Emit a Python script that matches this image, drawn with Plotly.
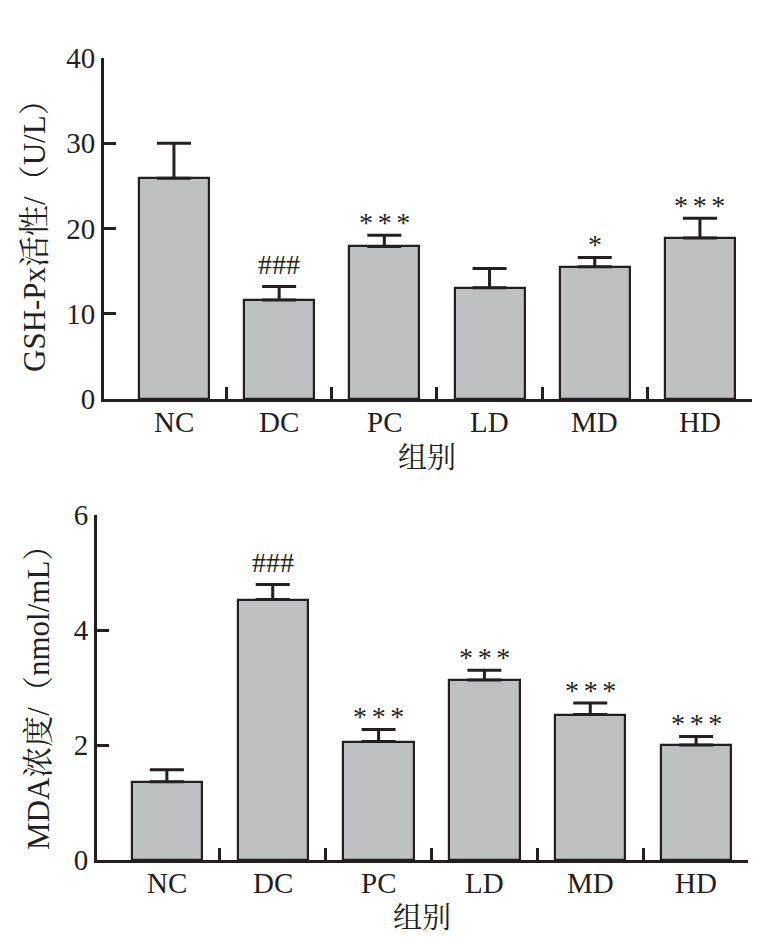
import plotly.graph_objects as go

W, H = 769, 948

groups = ["NC", "DC", "PC", "LD", "MD", "HD"]
gsh_mean = [25.9, 11.6, 17.9, 13.05, 15.5, 18.9]
gsh_err = [4.1, 1.6, 1.3, 2.25, 1.1, 2.3]
gsh_sig = ["", "###", "***", "", "*", "***"]
mda_mean = [1.36, 4.53, 2.06, 3.13, 2.53, 2.0]
mda_err = [0.21, 0.26, 0.21, 0.17, 0.20, 0.15]
mda_sig = ["", "###", "***", "***", "***", "***"]
gsh_ticks = [0, 10, 20, 30, 40]
mda_ticks = [0, 2, 4, 6]

INK = "#231f20"
FILL = "#bebfc1"
FONT = "Liberation Serif, Noto Serif CJK SC, Noto Sans CJK SC, serif"
FS = 29

xs = list(range(len(groups)))
fig = go.Figure()

for mean, err, xa, ya in [(gsh_mean, gsh_err, "x", "y"), (mda_mean, mda_err, "x2", "y2")]:
    fig.add_trace(go.Bar(
        x=xs, y=mean, width=0.665,
        marker=dict(color=FILL, line=dict(color=INK, width=2.2)),
        error_y=dict(type="data", array=err, arrayminus=[0]*len(err), symmetric=False,
                     color=INK, thickness=3, width=17),
        xaxis=xa, yaxis=ya, showlegend=False,
    ))

def px2x(p):
    return p / W

def px2y(p):
    return 1 - p / H

common_x = dict(
    tickmode="array", tickvals=xs, ticktext=groups, ticks="", showticklabels=False,
    showline=True, linewidth=3, linecolor=INK, showgrid=False, zeroline=False,
    tickfont=dict(family=FONT, size=FS, color=INK), automargin=False,
    minor=dict(tickmode="array", tickvals=[i + 0.5 for i in xs], ticks="inside",
               ticklen=12, tickwidth=3, tickcolor=INK, showgrid=False),
    fixedrange=True,
)
common_y = dict(
    tickmode="array", ticks="inside", ticklen=12, tickwidth=3, tickcolor=INK,
    showline=True, linewidth=3, linecolor=INK, showgrid=False, zeroline=False,
    tickfont=dict(family=FONT, size=FS, color=INK), fixedrange=True, automargin=False,
)

fig.update_layout(
    width=W, height=H, margin=dict(l=0, r=0, t=0, b=0),
    paper_bgcolor="white", plot_bgcolor="white",
    bargap=0,
    xaxis=dict(common_x, domain=[px2x(104), px2x(752)], range=[-0.665, 5.495], anchor="y"),
    yaxis=dict(common_y, domain=[px2y(399), px2y(58)], range=[0, 40], tickvals=gsh_ticks, anchor="x"),
    xaxis2=dict(common_x, domain=[px2x(97), px2x(748)], range=[-0.66, 5.49], anchor="y2"),
    yaxis2=dict(common_y, domain=[px2y(860), px2y(515)], range=[0, 6], tickvals=mda_ticks, anchor="x2"),
)

SP = "\u2006"
anns = []
for mean, err, sig, xr, yr in [(gsh_mean, gsh_err, gsh_sig, "x", "y"), (mda_mean, mda_err, mda_sig, "x2", "y2")]:
    for i, s in enumerate(sig):
        if not s:
            continue
        if s.startswith("#"):
            anns.append(dict(x=i, y=mean[i] + err[i], xref=xr, yref=yr, text=s, showarrow=False,
                             yanchor="middle", yshift=22, font=dict(family=FONT, size=28, color=INK)))
        else:
            anns.append(dict(x=i, y=mean[i] + err[i], xref=xr, yref=yr, text=SP.join(s), showarrow=False,
                             yanchor="middle", yshift=13, font=dict(family=FONT, size=28, color=INK)))

# category labels
for xr, ypix in [("x", 422), ("x2", 883)]:
    for i, g in enumerate(groups):
        anns.append(dict(x=i, y=px2y(ypix), xref=xr, yref="paper", text=g, showarrow=False,
                         xanchor="center", yanchor="middle", font=dict(family=FONT, size=FS, color=INK)))

# axis titles
anns.append(dict(x=px2x(35), y=px2y(228), xref="paper", yref="paper", text="GSH-Px活性/（U/L）",
                 textangle=-90, showarrow=False, xanchor="center", yanchor="middle",
                 font=dict(family=FONT, size=31, color=INK)))
anns.append(dict(x=px2x(38), y=px2y(690), xref="paper", yref="paper", text="MDA浓度/（nmol/mL）",
                 textangle=-90, showarrow=False, xanchor="center", yanchor="middle",
                 font=dict(family=FONT, size=31, color=INK)))
anns.append(dict(x=px2x(427), y=px2y(458), xref="paper", yref="paper", text="组别",
                 showarrow=False, xanchor="center", yanchor="middle",
                 font=dict(family=FONT, size=FS, color=INK)))
anns.append(dict(x=px2x(422), y=px2y(918), xref="paper", yref="paper", text="组别",
                 showarrow=False, xanchor="center", yanchor="middle",
                 font=dict(family=FONT, size=FS, color=INK)))

fig.update_layout(annotations=anns)
fig.write_html("out.html")
